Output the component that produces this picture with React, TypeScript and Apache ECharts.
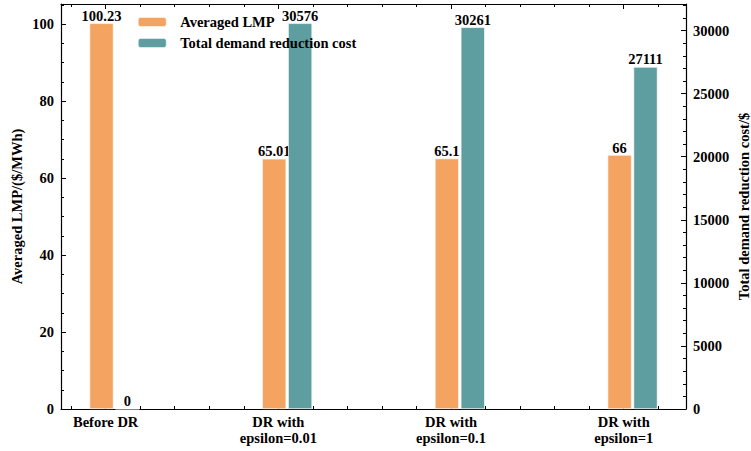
import React, { useEffect, useRef } from "react";
import * as echarts from "echarts";

const CATEGORIES = ["Before DR", "DR with\nepsilon=0.01", "DR with\nepsilon=0.1", "DR with\nepsilon=1"];
const SERIES_NAMES = ["Averaged LMP", "Total demand reduction cost"];
const LMP = [100.23, 65.01, 65.1, 66];
const COST = [0, 30576, 30261, 27111];
const LMP_TICKS = [0, 20, 40, 60, 80, 100];
const COST_TICKS = [0, 5000, 10000, 15000, 20000, 25000, 30000];

const FONT = "Liberation Serif";
const ORANGE = "#F4A460";
const TEAL = "#5F9EA0";
const BAR_W = 0.14;
const OFF_A = -0.024;
const OFF_B = 0.126;

const range = (a: number, b: number, s: number) => {
  const out: number[] = [];
  for (let v = a; v <= b + 1e-9; v += s) out.push(Math.round(v * 1000) / 1000);
  return out;
};

export default function App() {
  const ref = useRef<HTMLDivElement>(null);
  useEffect(() => {
    if (!ref.current) return;
    const chart = echarts.init(ref.current, null, { renderer: "svg" });
    const xMinData = OFF_A - BAR_W / 2;
    const xMaxData = CATEGORIES.length - 1 + OFF_B + BAR_W / 2;
    const span = xMaxData - xMinData;
    const xMin = xMinData - span * 0.05;
    const xMax = xMaxData + span * 0.05;
    const xMajor = CATEGORIES.map((_, i) => i);
    const xMinor = range(-0.2, xMax, 0.2).filter((v) => v >= xMin && Math.abs(v - Math.round(v)) > 1e-6);
    const lmpMax = Math.max(...LMP) * 1.05;
    const costMax = Math.max(...COST) * 1.05;
    const lmpMinor = range(0, lmpMax, 5);
    const costMinor = range(0, costMax, 1000);

    const txt = { fontFamily: FONT, fontWeight: "bold" as const, fontSize: 14.5, color: "#000" };
    const line = { show: true, onZero: false, lineStyle: { color: "#000", width: 1.2 } };
    const noLine = { show: false, onZero: false };

    const xBase = (pos: "bottom" | "top", ticks: number[], len: number, showLine: boolean, labels: boolean) => ({
      type: "value",
      position: pos,
      min: xMin,
      max: xMax,
      axisLine: showLine ? line : noLine,
      splitLine: { show: false },
      axisTick: { show: true, inside: true, length: len, customValues: ticks, lineStyle: { color: "#000", width: 1 } },
      axisLabel: labels
        ? {
            show: true,
            customValues: xMajor,
            formatter: (v: number) => CATEGORIES[Math.round(v)] ?? "",
            ...txt,
            lineHeight: 16,
            margin: 5,
          }
        : { show: false },
    });

    const yBase = (pos: "left" | "right", max: number, ticks: number[], len: number, major: boolean, name?: string, nameGap?: number) => ({
      type: "value",
      position: pos,
      min: 0,
      max,
      axisLine: major ? line : noLine,
      splitLine: { show: false },
      axisTick: { show: true, inside: true, length: len, customValues: ticks, lineStyle: { color: "#000", width: 1 } },
      axisLabel: major ? { show: true, customValues: ticks, formatter: (v: number) => String(v), ...txt, margin: 7 } : { show: false },
      name: name ?? "",
      nameLocation: "middle",
      nameRotate: 90,
      nameGap: nameGap ?? 0,
      nameMoveOverlap: false,
      nameTextStyle: txt,
    });

    chart.setOption({
      animation: false,
      backgroundColor: "#fff",
      textStyle: { fontFamily: FONT },
      grid: { left: 61, right: 65, top: 4, bottom: 42, containLabel: false, outerBoundsMode: "none" },
      legend: {
        orient: "vertical",
        left: 138,
        top: 14,
        padding: 0,
        itemWidth: 28,
        itemHeight: 9,
        itemGap: 5,
        data: SERIES_NAMES,
        textStyle: { ...txt, lineHeight: 16, padding: [0, 0, 0, 9] },
        itemStyle: { borderColor: "#fff", borderWidth: 0.5 },
      },
      xAxis: [
        xBase("bottom", xMajor, 5, true, true),
        xBase("bottom", xMinor, 3, false, false),
        xBase("top", xMajor, 5, true, false),
        xBase("top", xMinor, 3, false, false),
      ],
      yAxis: [
        yBase("left", lmpMax, LMP_TICKS, 5, true, "Averaged LMP/($/MWh)", 37),
        yBase("left", lmpMax, lmpMinor, 3, false),
        yBase("right", costMax, COST_TICKS, 5, true, "Total demand reduction cost/$", 50),
        yBase("right", costMax, costMinor, 3, false),
      ],
      series: [
        {
          name: SERIES_NAMES[0],
          type: "bar",
          xAxisIndex: 0,
          yAxisIndex: 0,
          z: 2,
          barWidth: 24,
          barGap: "-100%",
          data: LMP.map((v, i) => [i + OFF_A, v]),
          itemStyle: { color: ORANGE, borderColor: "#fff", borderWidth: 0.6 },
          label: { show: true, position: "top", distance: 0, formatter: (p: any) => String(p.value[1]), ...txt },
        },
        {
          name: SERIES_NAMES[1],
          type: "bar",
          xAxisIndex: 0,
          yAxisIndex: 2,
          z: 3,
          barWidth: 24,
          barGap: "-100%",
          data: COST.map((v, i) => [i + OFF_B, v]),
          itemStyle: { color: TEAL, borderColor: "#fff", borderWidth: 0.6 },
          label: { show: true, position: "top", distance: 0, formatter: (p: any) => String(p.value[1]), ...txt },
        },
      ],
    });
    return () => chart.dispose();
  }, []);
  return <div ref={ref} style={{ position: "fixed", left: 0, top: 0, width: 751, height: 451 }} />;
}
